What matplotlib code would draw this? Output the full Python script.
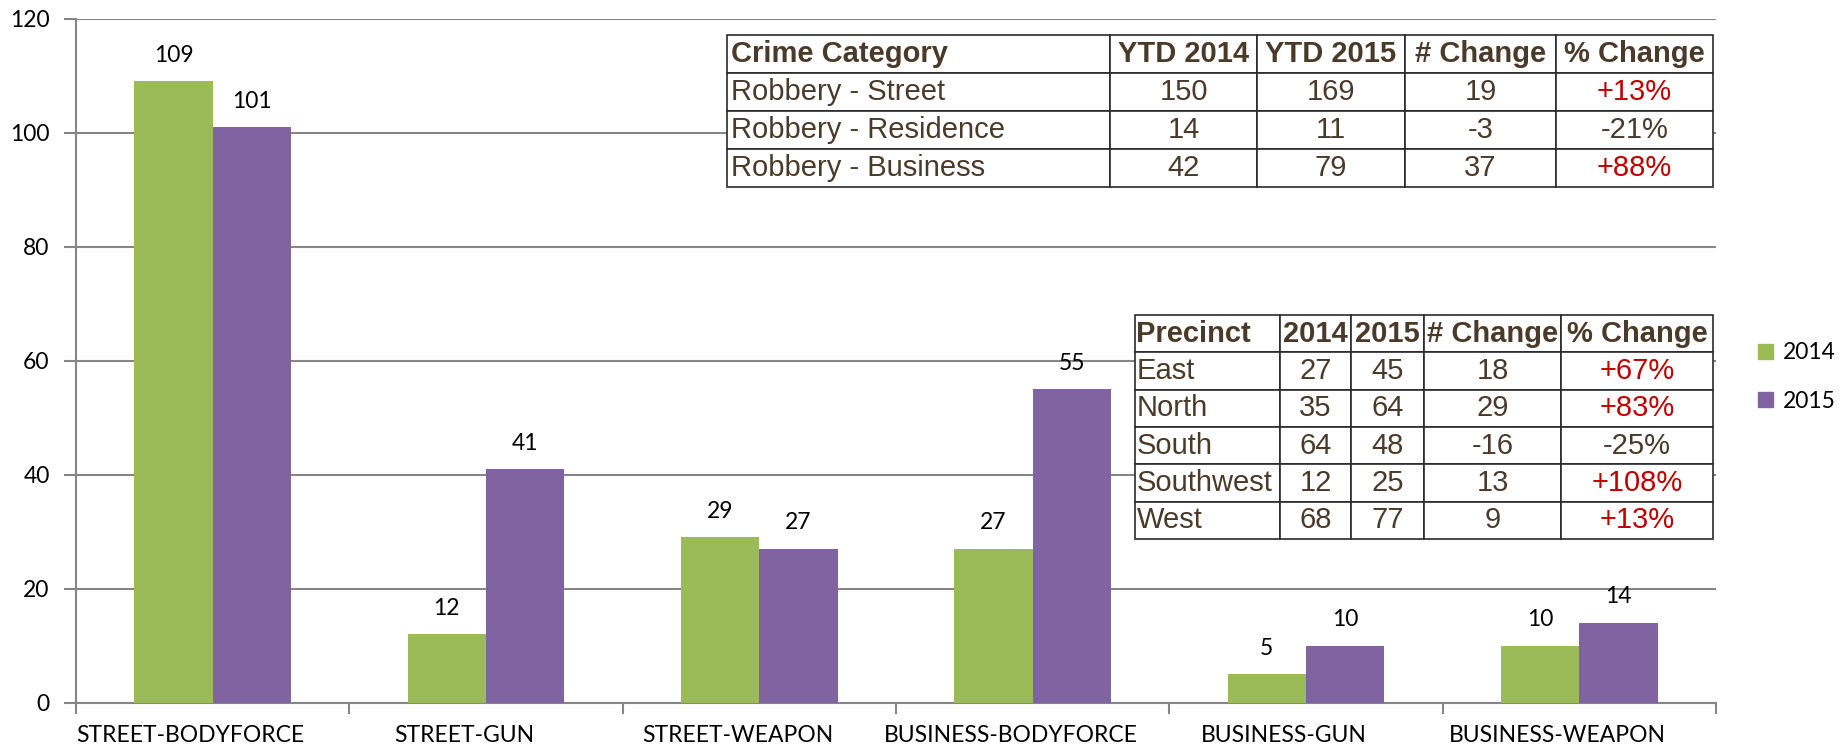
import matplotlib.pyplot as plt
import numpy as np
from matplotlib.patches import Patch
from matplotlib.transforms import ScaledTranslation

categories = ['STREET-BODYFORCE', 'STREET-GUN', 'STREET-WEAPON',
              'BUSINESS-BODYFORCE', 'BUSINESS-GUN', 'BUSINESS-WEAPON']
counts_2014 = [109, 12, 29, 27, 5, 10]
counts_2015 = [101, 41, 27, 55, 10, 14]
series_names = ['2014', '2015']

crime_header = ['Crime Category', 'YTD 2014', 'YTD 2015', '# Change', '% Change']
crime_rows = [['Robbery - Street', '150', '169', '19', '+13%'],
              ['Robbery - Residence', '14', '11', '-3', '-21%'],
              ['Robbery - Business', '42', '79', '37', '+88%']]

precinct_header = ['Precinct', '2014', '2015', '# Change', '% Change']
precinct_rows = [['East', '27', '45', '18', '+67%'],
                 ['North', '35', '64', '29', '+83%'],
                 ['South', '64', '48', '-16', '-25%'],
                 ['Southwest', '12', '25', '13', '+108%'],
                 ['West', '68', '77', '9', '+13%']]

GREEN = '#9BBB59'
PURPLE = '#8064A2'
GRAY = '#868686'
BROWN = '#4A3A2A'
RED = '#C00000'
W, H = 1845, 747
FS = 16.5

plt.rcParams['font.family'] = ['Lato', 'DejaVu Sans']

fig = plt.figure(figsize=(W / 100, H / 100), dpi=100)
ax = fig.add_axes([76 / W, 1 - 702.5 / H, (1716 - 76) / W, (702.5 - 18.5) / H])

x = np.arange(len(categories))
bw = 0.287
b1 = ax.bar(x - bw / 2, counts_2014, bw, color=GREEN, label=series_names[0], zorder=3)
b2 = ax.bar(x + bw / 2, counts_2015, bw, color=PURPLE, label=series_names[1], zorder=3)
for bars in (b1, b2):
    ax.bar_label(bars, padding=11, fontsize=FS)

ax.set_xlim(-0.5, len(categories) - 0.5)
ax.set_ylim(0, 120)
ax.set_yticks(range(0, 121, 20))
ax.yaxis.grid(True, color=GRAY, linewidth=1.5, zorder=0)
ax.set_axisbelow(True)

# category separators as major ticks, names as minor ticks
ax.set_xticks(np.arange(-0.5, len(categories), 1))
ax.set_xticklabels([])
ax.set_xticks(x, minor=True)
ax.set_xticklabels(categories, minor=True)
ax.tick_params(axis='x', which='major', length=8, width=1.5, color=GRAY)
ax.tick_params(axis='x', which='minor', length=0, pad=16, labelsize=FS)
ax.tick_params(axis='y', length=9, width=1.5, color=GRAY, labelsize=FS, pad=10)
# names sit a little left of the bar pairs in the original
shift = ScaledTranslation(-0.22, 0, fig.dpi_scale_trans)
for lbl in ax.get_xticklabels(minor=True):
    lbl.set_transform(lbl.get_transform() + shift)

for s in ['top', 'right']:
    ax.spines[s].set_visible(False)
for s in ['left', 'bottom']:
    ax.spines[s].set_color(GRAY)
    ax.spines[s].set_linewidth(1.5)

fig.legend(handles=[Patch(color=GREEN), Patch(color=PURPLE)], labels=series_names,
           loc='center left', bbox_to_anchor=(1758 / W, 1 - 377 / H),
           frameon=False, fontsize=FS, handlelength=0.65, handleheight=0.65,
           handletextpad=0.45, labelspacing=1.2, borderpad=0, borderaxespad=0)


def draw_table(left, right, top, bottom, col_edges, header, rows):
    tax = fig.add_axes([left / W, 1 - bottom / H, (right - left) / W, (bottom - top) / H])
    tax.axis('off')
    widths = np.diff(col_edges) / (right - left)
    tbl = tax.table(cellText=rows, colLabels=header, colWidths=list(widths),
                    bbox=[0, 0, 1, 1], cellLoc='center')
    tbl.auto_set_font_size(False)
    tbl.set_fontsize(21)
    for (r, c), cell in tbl.get_celld().items():
        cell.set_edgecolor('#2A2A2A')
        cell.set_linewidth(1.2)
        cell.set_facecolor('white')
        txt = cell.get_text()
        txt.set_fontfamily(['Liberation Sans', 'DejaVu Sans'])
        txt.set_color(BROWN)
        if r == 0:
            txt.set_fontweight('bold')
        if c == 0:
            cell.PAD = 0.01
            cell._loc = 'left'
            txt.set_ha('left')
        if r > 0 and c == len(header) - 1 and txt.get_text().startswith('+'):
            txt.set_color(RED)
    return tbl


draw_table(727, 1713, 35, 187, [727, 1110, 1257, 1405, 1556, 1713],
           crime_header, crime_rows)
draw_table(1135, 1713, 315, 539, [1135, 1280, 1351, 1424, 1561, 1713],
           precinct_header, precinct_rows)

fig.savefig('out.png', dpi=100)
